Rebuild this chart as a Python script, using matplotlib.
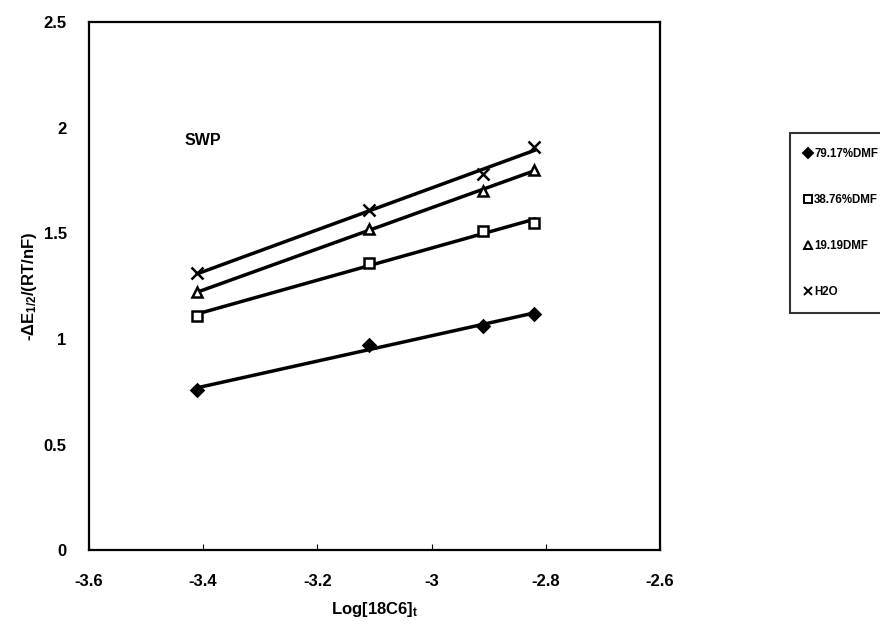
import numpy as np
import matplotlib
matplotlib.use("Agg")
import matplotlib.pyplot as plt
from matplotlib.lines import Line2D

plt.rcParams['font.family'] = ['Liberation Sans', 'DejaVu Sans']
plt.rcParams['font.weight'] = 'bold'
plt.rcParams['mathtext.fontset'] = 'custom'
plt.rcParams['mathtext.rm'] = 'Liberation Sans:bold'
plt.rcParams['mathtext.default'] = 'rm'

# data
log_c = [-3.41, -3.11, -2.91, -2.82]
dmf79 = [0.76, 0.97, 1.06, 1.12]
dmf38 = [1.11, 1.36, 1.51, 1.55]
dmf19 = [1.22, 1.52, 1.70, 1.80]
h2o = [1.31, 1.61, 1.78, 1.91]

labels = ['79.17%DMF', '38.76%DMF', '19.19DMF', 'H2O']
series = [dmf79, dmf38, dmf19, h2o]
markers = ['D', 's', '^', 'x']
facecols = ['black', 'white', 'white', 'black']
msizes = [6, 7.5, 7, 8]

fig = plt.figure(figsize=(8.8, 6.39), dpi=100)
ax = fig.add_axes([0.101, 0.139, 0.649, 0.8265])

x = np.array(log_c)
for ys, m, fc, ms in zip(series, markers, facecols, msizes):
    ys = np.array(ys)
    # linear trend line through the points
    k, b = np.polyfit(x, ys, 1)
    ax.plot([x.min(), x.max()], [k * x.min() + b, k * x.max() + b],
            color='black', lw=2.5, zorder=2)
    ax.plot(x, ys, linestyle='none', marker=m, ms=ms, mfc=fc,
            mec='black', mew=1.8, zorder=3)

ax.set_xlim(-3.6, -2.6)
ax.set_ylim(0, 2.5)
ax.set_xticks([-3.6, -3.4, -3.2, -3.0, -2.8, -2.6])
ax.set_xticklabels(['-3.6', '-3.4', '-3.2', '-3', '-2.8', '-2.6'])
ax.set_yticks([0, 0.5, 1, 1.5, 2, 2.5])
ax.set_yticklabels(['0', '0.5', '1', '1.5', '2', '2.5'])
ax.tick_params(axis='x', direction='in', length=4, width=0.8,
               labelsize=12, pad=17)
ax.tick_params(axis='y', direction='in', length=0, labelsize=12, pad=16)
for s in ax.spines.values():
    s.set_linewidth(1.6)

ax.set_xlabel('Log[18C6]$_t$', fontsize=12, fontweight='bold', labelpad=8)
ax.set_ylabel('-ΔE$_{1/2}$/(RT/nF)', fontsize=12, fontweight='bold',
              labelpad=3)

ax.text(-3.432, 1.94, 'SWP', fontsize=11.5, fontweight='bold',
        va='center', ha='left')

handles = [Line2D([], [], linestyle='none', marker=m, ms=ms * 0.8, mfc=fc,
                  mec='black', mew=1.4)
           for m, fc, ms in zip(markers, facecols, msizes)]
leg = fig.legend(handles, labels, loc='upper left',
                 bbox_to_anchor=(790 / 880, 1 - 133 / 639),
                 frameon=True, fancybox=False, edgecolor='black',
                 prop={'size': 8.3, 'weight': 'bold'},
                 handlelength=0.6, handletextpad=0.2,
                 labelspacing=2.95, borderpad=1.3, borderaxespad=0)
leg.get_frame().set_linewidth(1.5)

fig.savefig('out.png', dpi=100)
